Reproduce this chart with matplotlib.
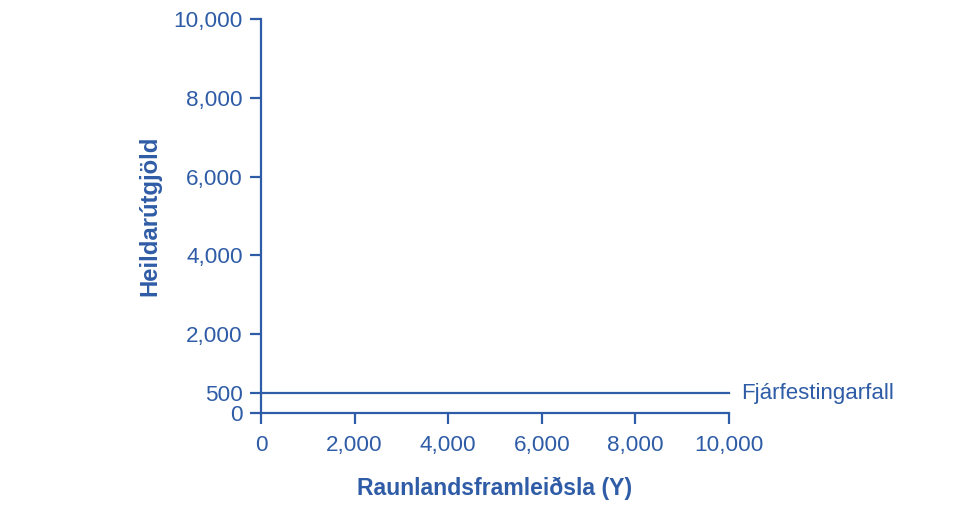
import numpy as np
import matplotlib.pyplot as plt

plt.rcParams['font.family'] = ['Liberation Sans', 'DejaVu Sans']

blue = "#2f5ca6"

# Gögn
x_ticks = [0, 2000, 4000, 6000, 8000, 10000]
y_ticks = [0, 500, 2000, 4000, 6000, 8000, 10000]
fjarfesting_x = [0, 10000]
fjarfesting_y = [500, 500]

fig = plt.figure(figsize=(9.76, 5.09), dpi=100)
ax = fig.add_axes([0.2674, 0.1886, 0.4795, 0.7741])

ax.plot(fjarfesting_x, fjarfesting_y, color=blue, linewidth=1.6, clip_on=False)
ax.text(10250, 500, "Fjárfestingarfall", color=blue, fontsize=16.0, va="center", ha="left")

ax.set_xlim(0, 10000)
ax.set_ylim(0, 10000)
ax.set_xticks(x_ticks)
ax.set_yticks(y_ticks)
ax.set_xticklabels([f"{v:,}" for v in x_ticks])
ax.set_yticklabels([f"{v:,}" for v in y_ticks])

for s in ["top", "right"]:
    ax.spines[s].set_visible(False)
for s in ["left", "bottom"]:
    ax.spines[s].set_color(blue)
    ax.spines[s].set_linewidth(1.6)

ax.tick_params(colors=blue, labelcolor=blue, labelsize=16.2, length=8, width=1.6)
ax.tick_params(axis="y", pad=5)
ax.tick_params(axis="x", pad=8)

ax.set_xlabel("Raunlandsframleiðsla (Y)", color=blue, fontsize=16.6, fontweight="bold", labelpad=15)
ax.set_ylabel("Heildarútgjöld", color=blue, fontsize=17.2, fontweight="bold", labelpad=9)

fig.savefig("out.png", dpi=100)
